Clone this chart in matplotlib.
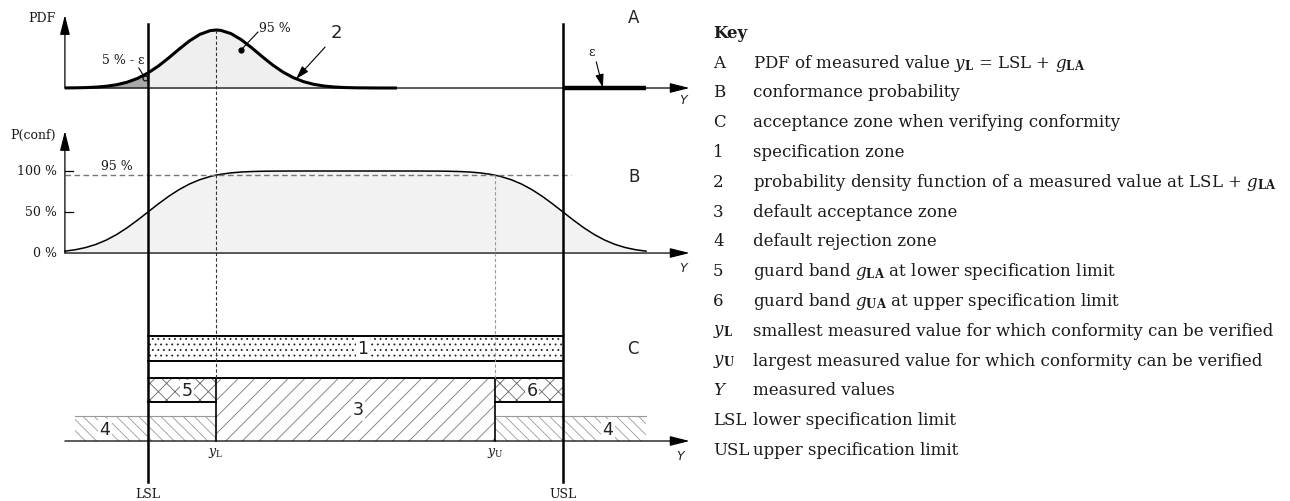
import matplotlib
matplotlib.use("Agg")
import matplotlib.pyplot as plt
from matplotlib.patches import Rectangle

plt.rcParams['mathtext.fontset'] = 'dejavuserif'
plt.rcParams['hatch.linewidth'] = 0.6

# limits and guard bands (units of sigma)
LSL, USL = 0.0, 10.0
y_L, y_U = 1.645, 8.355
Y_START, Y_END = -2.0, 13.05
REJ_LO, REJ_HI = -1.75, 12.0

pdf_y = [-2.0, -1.75, -1.5, -1.25, -1.0, -0.75, -0.5, -0.25, 0.0, 0.25, 0.5, 0.75,
         1.0, 1.25, 1.5, 1.645, 1.75, 2.0, 2.25, 2.5, 2.75, 3.0, 3.25, 3.5, 3.75,
         4.0, 4.25, 4.5, 4.75, 5.0, 5.5, 6.0]
pdf_val = [0.0005, 0.0013, 0.0028, 0.0060, 0.0121, 0.0226, 0.0400, 0.0662, 0.1031,
           0.1508, 0.2070, 0.2671, 0.3239, 0.3690, 0.3948, 0.3989, 0.3968, 0.3745,
           0.3321, 0.2767, 0.2166, 0.1594, 0.1103, 0.0716, 0.0436, 0.0249, 0.0134,
           0.0067, 0.0032, 0.0014, 0.0002, 0.0]

# conformance probability (panel B)
conf_y = [-2.0, -1.75, -1.5, -1.25, -1.0, -0.75, -0.5, -0.25, 0.0, 0.25, 0.5, 0.75,
          1.0, 1.25, 1.5, 1.645, 1.75, 2.0, 2.25, 2.5, 2.75, 3.0, 3.5, 4.0,
          6.0, 6.5, 7.0, 7.25, 7.5, 7.75, 8.0, 8.25, 8.355, 8.5, 8.75, 9.0, 9.25,
          9.5, 9.75, 10.0, 10.25, 10.5, 10.75, 11.0, 11.25, 11.5, 11.75, 12.0]
conf_val = [0.0228, 0.0401, 0.0668, 0.1056, 0.1587, 0.2266, 0.3085, 0.4013, 0.5,
            0.5987, 0.6915, 0.7734, 0.8413, 0.8944, 0.9332, 0.95, 0.9599, 0.9772,
            0.9878, 0.9938, 0.9970, 0.9987, 0.9998, 1.0,
            1.0, 0.9998, 0.9987, 0.9970, 0.9938, 0.9878, 0.9772, 0.9599, 0.95,
            0.9332, 0.8944, 0.8413, 0.7734, 0.6915, 0.5987, 0.5, 0.4013, 0.3085,
            0.2266, 0.1587, 0.1056, 0.0668, 0.0401, 0.0228]
conf_ticks = [0.0, 0.5, 1.0]
conf_ticklabels = ['0 %', '50 %', '100 %']

key_labels = ['A', 'B', 'C', '1', '2', '3', '4', '5', '6',
              r'$y_{\mathbf{L}}$', r'$y_{\mathbf{U}}$', r'$Y$', 'LSL', 'USL']
key_texts = [
    r'PDF of measured value $y_{\mathbf{L}}$ = LSL + $g_{\mathbf{LA}}$',
    'conformance probability',
    'acceptance zone when verifying conformity',
    'specification zone',
    r'probability density function of a measured value at LSL + $g_{\mathbf{LA}}$',
    'default acceptance zone',
    'default rejection zone',
    r'guard band $g_{\mathbf{LA}}$ at lower specification limit',
    r'guard band $g_{\mathbf{UA}}$ at upper specification limit',
    'smallest measured value for which conformity can be verified',
    'largest measured value for which conformity can be verified',
    'measured values',
    'lower specification limit',
    'upper specification limit',
]

W, H = 1290, 501
fig = plt.figure(figsize=(W / 100, H / 100), dpi=100)
XLIM = (-2.6, 13.3)


def box(top, bottom, left=40, right=700):
    return [left / W, 1 - bottom / H, (right - left) / W, (bottom - top) / H]


def ftxt(px, py, s, ax=None, **kw):
    if ax is None:
        fig.text(px / W, 1 - py / H, s, **kw)
    else:
        ax.text(px / W, 1 - py / H, s, transform=fig.transFigure, **kw)


axA = fig.add_axes(box(5, 100))
axA.set_ylim(-0.0825, 0.571)
axB = fig.add_axes(box(120, 265))
axB.set_ylim(-0.146, 1.622)
axC = fig.add_axes(box(320, 500))
axC.set_ylim(-59, 121)
axO = fig.add_axes(box(0, 501))
axO.set_ylim(501, 0)
for ax in (axA, axB, axC, axO):
    ax.set_xlim(XLIM)
    ax.axis('off')
    ax.patch.set_alpha(0)

arrow = dict(arrowstyle='-|>,head_length=1.2,head_width=0.3', mutation_scale=10,
             color='k', lw=0.9, shrinkA=0, shrinkB=0)
small_arrow = dict(arrowstyle='-|>,head_length=0.8,head_width=0.25',
                   mutation_scale=10, color='k', lw=0.8, shrinkA=0, shrinkB=0)
serif = dict(family='DejaVu Serif', color='#1a1a1a')
sans = dict(family='DejaVu Sans', color='#222')

# ---- panel A
axA.fill_between(pdf_y, pdf_val, color='#efefef', lw=0)
tail_y = [y for y in pdf_y if y <= LSL]
axA.fill_between(tail_y, pdf_val[:len(tail_y)], color='#a8a8a8', lw=0)
axA.annotate('', xy=(Y_END, 0), xytext=(Y_START, 0), arrowprops=arrow)
axA.annotate('', xy=(Y_START, 0.502), xytext=(Y_START, 0), arrowprops=arrow)
axA.plot(pdf_y, pdf_val, color='k', lw=2.2, solid_capstyle='butt', solid_joinstyle='round')
axA.plot([USL, REJ_HI], [0, 0], color='k', lw=3.2, solid_capstyle='butt')

axA.plot([2.65, 2.24], [0.385, 0.261], color='k', lw=0.8)
axA.plot(2.24, 0.261, 'o', color='k', ms=3.5)
axA.plot([-0.22, -0.07], [0.1375, 0.069], color='k', lw=0.8)
axA.plot(-0.07, 0.069, 'o', mfc='#a8a8a8', mec='k', ms=3.5, mew=0.8)
axA.annotate('', xy=(3.57, 0.063), xytext=(4.27, 0.282), arrowprops=small_arrow)
axA.annotate('', xy=(10.96, 0.003), xytext=(10.8, 0.18), arrowprops=small_arrow)

ftxt(42, 18, 'PDF', ha='center', va='center', size=9, **serif)
ftxt(123, 61, '5 % - ε', ha='center', va='center', size=9, **serif)
ftxt(275, 28, '95 %', ha='center', va='center', size=9, **serif)
ftxt(336, 33, '2', ha='center', va='center', size=13, **sans)
ftxt(592, 53, 'ε', ha='center', va='center', size=9, **serif)
ftxt(634, 18, 'A', ha='center', va='center', size=12, **sans)
ftxt(683, 100, 'Y', ha='center', va='center', size=9, style='italic', **sans)

# ---- panel B
axB.fill_between(conf_y, conf_val, color='#f2f2f2', lw=0)
axB.annotate('', xy=(Y_END, 0), xytext=(Y_START, 0), arrowprops=arrow)
axB.annotate('', xy=(Y_START, 1.488), xytext=(Y_START, 0), arrowprops=arrow)
axB.plot(conf_y, conf_val, color='k', lw=1.1)
axB.plot([Y_START, USL + 0.2], [0.95, 0.95], color='#777', lw=1.0, dashes=(4, 2.5))
for t, lab in zip(conf_ticks, conf_ticklabels):
    if t > 0:
        axB.plot([Y_START, Y_START + 0.2], [t, t], color='k', lw=0.9)
    axB.text(Y_START - 0.2, t, lab, ha='right', va='center', size=9, **serif)
ftxt(33, 135, 'P(conf)', ha='center', va='center', size=9, **serif)
ftxt(117, 167, '95 %', ha='center', va='center', size=9, **serif)
ftxt(634, 177, 'B', ha='center', va='center', size=12, **sans)
ftxt(683, 268, 'Y', ha='center', va='center', size=9, style='italic', **sans)

# ---- panel C (heights: pixels above the baseline)
zones = [
    (LSL, USL, 80, 105, '...', '#222'),   # 1 specification zone
    (LSL, y_L, 39, 63, 'xx', '#666'),     # 5 guard band lower
    (y_U, USL, 39, 63, 'xx', '#666'),     # 6 guard band upper
    (y_L, y_U, 0, 63, '//', '#777'),      # 3 acceptance zone
    (REJ_LO, y_L, 0, 25, '\\\\\\', '#999'),  # 4 rejection zone
    (y_U, REJ_HI, 0, 25, '\\\\\\', '#999'),  # 4 rejection zone
]
for x0, x1, h0, h1, hatch, col in zones:
    axC.add_patch(Rectangle((x0, h0), x1 - x0, h1 - h0, facecolor='white',
                            edgecolor=col, hatch=hatch, lw=0, zorder=1))
for (x0, x1), h in [((REJ_LO, y_L), 25), ((y_U, REJ_HI), 25)]:
    axC.plot([x0, x1], [h, h], color='#999', lw=0.8)
for h in (80, 105, 63):
    axC.plot([LSL, USL], [h, h], color='k', lw=1.4)
axC.plot([LSL, y_L], [39, 39], color='k', lw=1.4)
axC.plot([y_U, USL], [39, 39], color='k', lw=1.4)
axC.plot([y_L, y_L], [0, 63], color='k', lw=1.2)
axC.plot([y_U, y_U], [0, 63], color='k', lw=1.2)
axC.annotate('', xy=(Y_END, 0), xytext=(Y_START, 0), arrowprops=arrow)

lbl = dict(ha='center', va='center', size=12.5, zorder=1.5,
           bbox=dict(boxstyle='square,pad=0.1', fc='white', ec='none'), **sans)
ftxt(363, 349, '1', ax=axC, **lbl)
ftxt(358, 410, '3', ax=axC, **lbl)
ftxt(187, 391, '5', ax=axC, **lbl)
ftxt(532, 391, '6', ax=axC, **lbl)
ftxt(105, 430, '4', ax=axC, **lbl)
ftxt(608, 430, '4', ax=axC, **lbl)
ftxt(216, 453, r'$y_{\rm L}$', ha='center', va='center', size=9, **serif)
ftxt(495, 453, r'$y_{\rm U}$', ha='center', va='center', size=9, **serif)
ftxt(633, 349, 'C', ha='center', va='center', size=12, **sans)
ftxt(680, 457, 'Y', ha='center', va='center', size=9, style='italic', **sans)

# ---- lines crossing the panels
axO.plot([y_L, y_L], [30, 378], color='#333', lw=0.8, dashes=(3, 2))
axO.plot([y_U, y_U], [175, 378], color='#999', lw=0.8, dashes=(3, 2))
axO.plot([LSL, LSL], [24, 482], color='k', lw=1.8)
axO.plot([USL, USL], [24, 482], color='k', lw=1.8)
ftxt(148, 494, 'LSL', ha='center', va='center', size=9, **serif)
ftxt(563, 494, 'USL', ha='center', va='center', size=9, **serif)

# ---- key
ftxt(713, 33, 'Key', ha='left', va='center', size=12, weight='bold', **serif)
for i, (lab, txt) in enumerate(zip(key_labels, key_texts)):
    row = 63 + i * 29.8
    ftxt(713, row, lab, ha='left', va='center', size=12, **serif)
    ftxt(753, row, txt, ha='left', va='center', size=12, **serif)

fig.savefig('out.png', dpi=100, facecolor='white')
